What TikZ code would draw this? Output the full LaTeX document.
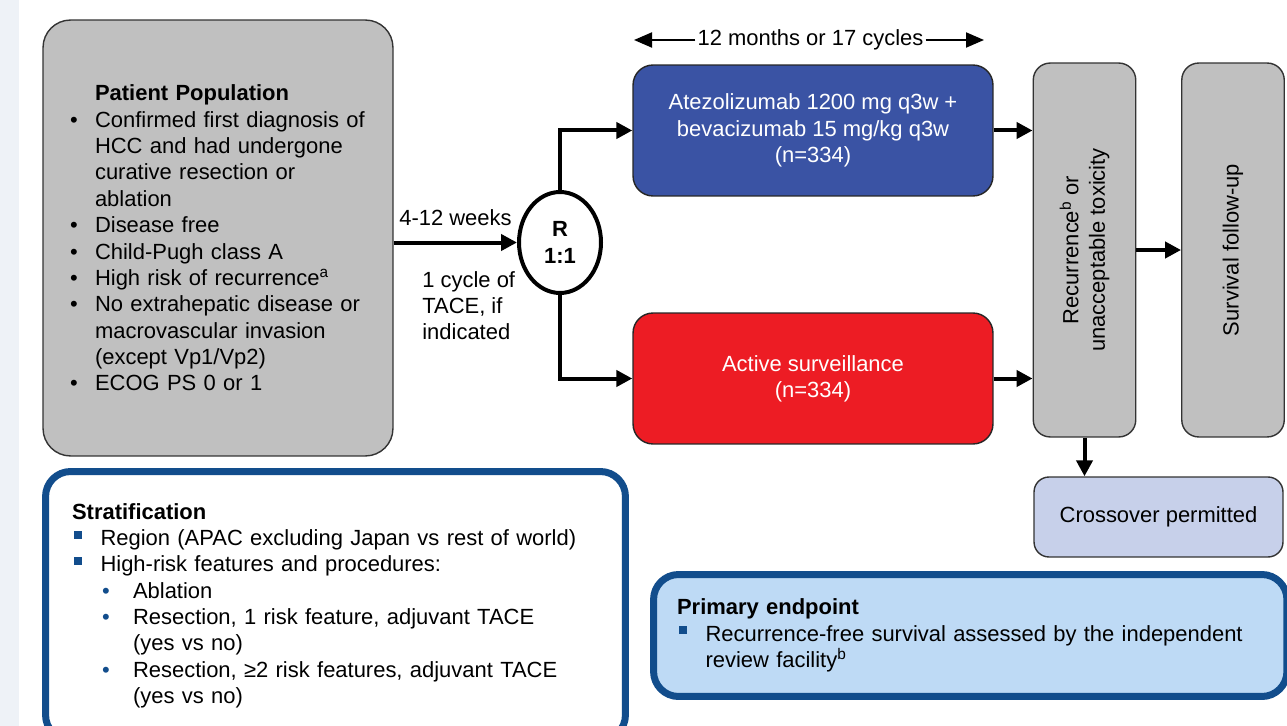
\documentclass[tikz,border=0pt]{standalone}
\usepackage{fontspec}
\setmainfont{Liberation Sans}
\usetikzlibrary{shapes.geometric,arrows.meta}

\definecolor{boxgray}{HTML}{C0C0C0}
\definecolor{armblue}{HTML}{3A53A4}
\definecolor{armred}{HTML}{ED1C24}
\definecolor{crossblue}{HTML}{C7D0EA}
\definecolor{frameblue}{HTML}{124D8C}
\definecolor{endptblue}{HTML}{BEDAF5}
\definecolor{stripbg}{HTML}{EEF2F7}

% bullets used in the text boxes
\newcommand{\pbul}{\makebox[0.5cm][l]{\textbullet}}
\newcommand{\sqbul}{\hspace*{0.04cm}\makebox[0.53cm][l]{\textcolor{frameblue}{\raisebox{0.14cm}{\rule{0.16cm}{0.16cm}}}}}
\newcommand{\dotbul}{\hspace*{0.6cm}\makebox[0.62cm][l]{\textcolor{frameblue}{\textbullet}}}

\tikzset{
  txt/.style={font=\fontsize{12.5}{15}\selectfont},
  graybox/.style={draw=black!80,line width=0.8pt,fill=boxgray},
  armbox/.style={draw=black!85,line width=0.8pt,rounded corners=0.4cm,minimum width=7.2cm,minimum height=2.62cm,text=white,align=center},
  sidebox/.style={graybox,rotate=90,rounded corners=0.34cm,minimum width=7.48cm,minimum height=2.05cm,align=center},
  framebox/.style={draw=frameblue,line width=0.14cm,rounded corners=0.5cm,align=left},
  flow/.style={line width=0.08cm,-{Triangle[length=0.32cm,width=0.32cm]}},
  span/.style={line width=0.04cm,-{Triangle[length=0.36cm,width=0.3cm]}},
}

\begin{document}
\begin{tikzpicture}[x=0.02cm,y=-0.02cm,every node/.style={txt}]
\useasboundingbox (0,0) rectangle (1287,726);
\fill[stripbg] (0,0) rectangle (19,726);

% patient population
\node[graybox,rounded corners=0.55cm,minimum width=7cm,minimum height=8.72cm,text width=5.92cm,inner xsep=0.54cm,align=left] (pat) at (218,238) {%
\hspace*{0.5cm}\textbf{Patient Population}\\
\pbul Confirmed first diagnosis of\\
\hspace*{0.5cm}HCC and had undergone\\
\hspace*{0.5cm}curative resection or\\
\hspace*{0.5cm}ablation\\
\pbul Disease free\\
\pbul Child-Pugh class A\\
\pbul High risk of recurrence\textsuperscript{a}\\
\pbul No extrahepatic disease or\\
\hspace*{0.5cm}macrovascular invasion\\
\hspace*{0.5cm}(except Vp1/Vp2)\\
\pbul ECOG PS 0 or 1};

% randomisation
\node[ellipse,draw,line width=0.08cm,fill=white,minimum width=1.64cm,minimum height=2.02cm,inner sep=0,align=center,font=\fontsize{12.5}{15}\selectfont\bfseries] (rnd) at (560,242.5) {R\\1:1};
\node[anchor=base east,inner sep=0] (wks) at (512,225) {4-12 weeks};
\node[anchor=north west,inner sep=0,align=left] (tace) at (422,271) {1 cycle of\\TACE, if\\indicated};

% arms
\node[armbox,fill=armblue] (atezo) at (813,130.5) {Atezolizumab 1200 mg q3w +\\bevacizumab 15 mg/kg q3w\\(n=334)};
\node[armbox,fill=armred] (surv) at (813,378.5) {Active surveillance\\(n=334)};

\node[inner xsep=1pt,inner ysep=0] (dur) at (810.5,40) {12 months or 17 cycles};
\coordinate (durL) at (634,40);
\coordinate (durR) at (984,40);

% right column
\node[sidebox] (rec) at (1084.5,250) {Recurrence\textsuperscript{b} or\\unacceptable toxicity};
\node[sidebox] (fup) at (1233,250) {Survival follow-up};
\node[graybox,fill=crossblue,rounded corners=0.3cm,minimum width=4.98cm,minimum height=1.6cm] (cross) at (1158.5,517) {Crossover permitted};

% stratification and endpoint
\node[framebox,fill=white,minimum width=11.6cm,minimum height=5.37cm,text width=10.54cm,inner xsep=0.53cm] (strat) at (335.5,605.75) {%
\textbf{Stratification}\\
\sqbul Region (APAC excluding Japan vs rest of world)\\
\sqbul High-risk features and procedures:\\
\dotbul Ablation\\
\dotbul Resection, 1 risk feature, adjuvant TACE\\
\hspace*{1.22cm}(yes vs no)\\
\dotbul Resection, ≥2 risk features, adjuvant TACE\\
\hspace*{1.22cm}(yes vs no)};
\node[framebox,fill=endptblue,minimum width=12.67cm,minimum height=2.44cm,text width=11.73cm,inner xsep=0.47cm] (endpt) at (970.25,635.5) {%
\textbf{Primary endpoint}\\
\sqbul Recurrence-free survival assessed by the independent\\
\hspace*{0.57cm}review facility\textsuperscript{b}};

% connectors
\draw[flow] (pat.east |- rnd.west) -- (rnd.west);
\draw[flow] (rnd.north) |- (atezo.west);
\draw[flow] (rnd.south) |- (surv.west);
\draw[span] (dur.west) -- (durL);
\draw[span] (dur.east) -- (durR);
\draw[flow] (atezo.east) -- (atezo.east -| rec.north);
\draw[flow] (surv.east) -- (surv.east -| rec.north);
\draw[flow] (rec.south) -- (fup.north);
\draw[flow] (rec.west) -- (rec.west |- cross.north);
\end{tikzpicture}
\end{document}
